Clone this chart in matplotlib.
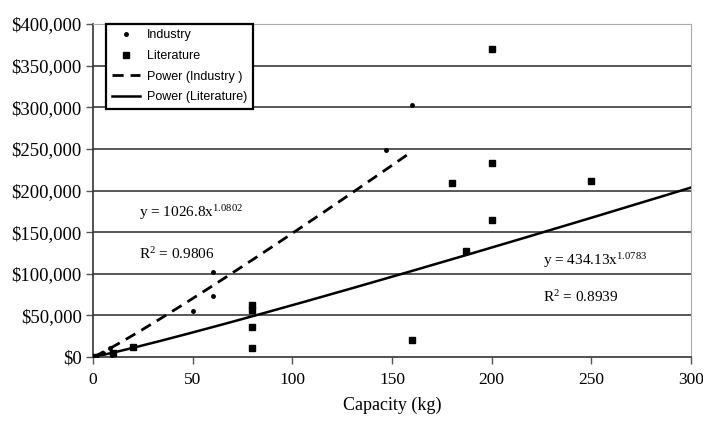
import matplotlib.pyplot as plt
import numpy as np
from matplotlib.ticker import MultipleLocator, FuncFormatter

# industry data points (capacity kg, cost $)
ind_x = [1, 5, 8.5, 9.5, 50, 60, 60, 147, 160]
ind_y = [1000, 5000, 11000, 3000, 55000, 73000, 102000, 249000, 303000]

# literature data points
lit_x = [1, 10, 20, 80, 80, 80, 80, 160, 180, 187, 200, 200, 200, 250]
lit_y = [500, 5000, 12000, 62000, 57000, 36000, 11000, 20000, 209000, 127000, 165000, 233000, 370000, 211000]

# power trendline coefficients (from chart labels)
ind_a, ind_b, ind_r2 = 1026.8, 1.0802, 0.9806
lit_a, lit_b, lit_r2 = 434.13, 1.0783, 0.8939
ind_xmax = 160
lit_xmax = 300

serif = 'Liberation Serif'
plt.rcParams['mathtext.fontset'] = 'custom'
plt.rcParams['mathtext.rm'] = serif
plt.rcParams['mathtext.it'] = serif

fig = plt.figure(figsize=(7.03, 4.30), dpi=100)
ax = fig.add_axes([93/703, 1-357/430, 598/703, 333/430])

# grid lines
for v in range(50000, 400001, 50000):
    ax.axhline(v, color='#4a4a4a' if v < 400000 else '#aaaaaa', lw=1.3, zorder=1)

xi = np.linspace(0.5, ind_xmax, 200)
xl = np.linspace(0.5, lit_xmax, 300)
ax.plot(ind_x, ind_y, 'o', color='black', ms=2.5, label='Industry', zorder=3)
ax.plot(lit_x, lit_y, 's', color='black', ms=4.5, label='Literature', zorder=3)
ax.plot(xi, ind_a*xi**ind_b, '--', color='black', lw=2, dashes=(4, 2.5), label='Power (Industry )', zorder=2)
ax.plot(xl, lit_a*xl**lit_b, '-', color='black', lw=1.8, label='Power (Literature)', zorder=2)

ax.set_xlim(0, 300)
ax.set_ylim(0, 400000)
ax.xaxis.set_major_locator(MultipleLocator(50))
ax.yaxis.set_major_locator(MultipleLocator(50000))
ax.yaxis.set_major_formatter(FuncFormatter(lambda v, p: '${:,.0f}'.format(v)))
for lab in ax.get_xticklabels():
    lab.set_fontfamily(serif)
    lab.set_fontsize(12.5)
for lab in ax.get_yticklabels():
    lab.set_fontfamily(serif)
    lab.set_fontsize(13.5)
ax.tick_params(axis='both', length=5, width=1, color='#555555', pad=6)
ax.tick_params(axis='y', pad=3)

ax.spines['left'].set_color('#333333')
ax.spines['bottom'].set_color('#333333')
ax.spines['top'].set_color('#aaaaaa')
ax.spines['right'].set_color('#aaaaaa')
ax.spines['left'].set_linewidth(1.2)
ax.spines['bottom'].set_linewidth(1.2)

ax.set_xlabel('Capacity (kg)', fontfamily=serif, fontsize=13, labelpad=6)

# trendline equations
ax.text(23, 168000, 'y = 1026.8x$^{1.0802}$', fontfamily=serif, fontsize=11)
ax.text(23, 118000, 'R$^{2}$ = 0.9806', fontfamily=serif, fontsize=11)
ax.text(226, 110000, 'y = 434.13x$^{1.0783}$', fontfamily=serif, fontsize=11)
ax.text(226, 66000, 'R$^{2}$ = 0.8939', fontfamily=serif, fontsize=11)

leg = ax.legend(loc='upper left', bbox_to_anchor=(0.012, 1.02), fancybox=False,
                edgecolor='black', framealpha=1, prop={'family': 'Liberation Sans', 'size': 9},
                handlelength=2.2, handletextpad=0.6, borderpad=0.45, labelspacing=0.7)
leg.get_frame().set_linewidth(1.6)

fig.savefig('out.png', dpi=100)
